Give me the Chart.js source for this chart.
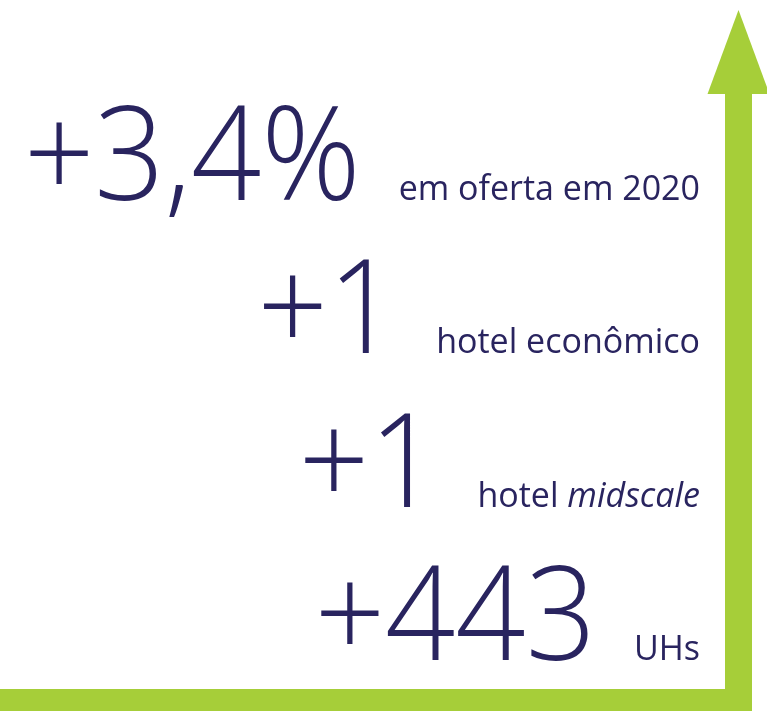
<!DOCTYPE html>
<html>
<head>
<meta charset="utf-8">
<script src="https://cdn.jsdelivr.net/npm/chart.js@4.4.1/dist/chart.umd.min.js"></script>
<style>
  html, body { margin: 0; padding: 0; background: #fff; }
  #wrap { width: 767px; height: 711px; }
</style>
</head>
<body>
<div id="wrap"><canvas id="oferta"></canvas></div>
<script>
// Dados -----------------------------------------------------------------------
var destaques = ['+3,4%', '+1', '+1', '+443'];
var legendas = ['em oferta em 2020', 'hotel econômico', 'hotel _midscale_', 'UHs'];
var linhas = [4, 3, 2, 1];           // linha de cada destaque, de cima para baixo

var azul = '#29245f';
var verde = '#a6ce39';

// Escala vertical em "linhas": 1 linha = 460/3 px
var passo = 460 / 3;
var yMin = 1 - 51 / passo;
var yMax = 4 + 200 / passo;
var xSeta = 738.5;
var yBarra = 1 - 40 / passo;
var yBaseSeta = 4 + 106 / passo;

// Textos (números e legendas) -------------------------------------------------
var textos = {
    id: 'textos',
    afterDatasetsDraw: function (chart) {
        var ctx = chart.ctx, xs = chart.scales.x, ys = chart.scales.y;
        var direita = xs.getPixelForValue(700);
        ctx.save();
        ctx.fillStyle = azul;
        ctx.textBaseline = 'alphabetic';
        linhas.forEach(function (v, i) {
            var y = ys.getPixelForValue(v);
            var partes = legendas[i].split('_');
            var fontes = partes.map(function (p, k) {
                return (k % 2 ? 'italic ' : '') + '400 34px "Open Sans"';
            });
            var total = 0;
            partes.forEach(function (p, k) { ctx.font = fontes[k]; total += ctx.measureText(p).width; });
            var x = direita - total;
            var inicio = x;
            ctx.textAlign = 'left';
            partes.forEach(function (p, k) {
                ctx.font = fontes[k];
                ctx.fillText(p, x, y);
                x += ctx.measureText(p).width;
            });
            // número grande, um pouco estreitado
            ctx.save();
            ctx.translate(inicio - 38, y);
            ctx.scale(0.94, 1);
            ctx.font = '300 131px "Open Sans"';
            ctx.textAlign = 'right';
            ctx.fillText(destaques[i], 0, 0);
            ctx.restore();
        });
        ctx.restore();
    }
};

// Ponta da seta ----------------------------------------------------------------
var pontaSeta = {
    id: 'pontaSeta',
    afterDatasetsDraw: function (chart) {
        var ctx = chart.ctx, xs = chart.scales.x, ys = chart.scales.y;
        var cx = xs.getPixelForValue(xSeta);
        var base = ys.getPixelForValue(yBaseSeta);
        ctx.save();
        ctx.fillStyle = verde;
        ctx.beginPath();
        ctx.moveTo(cx, base - 84);
        ctx.lineTo(cx + 31, base);
        ctx.lineTo(cx - 31, base);
        ctx.closePath();
        ctx.fill();
        ctx.restore();
    }
};

var ctx = document.getElementById('oferta').getContext('2d');
var chart = new Chart(ctx, {
    type: 'line',
    data: {
        datasets: [
            {
                data: [{ x: 0, y: yBarra }, { x: 752, y: yBarra }],
                borderColor: verde,
                borderWidth: 22,
                borderCapStyle: 'butt',
                pointRadius: 0,
                clip: false
            },
            {
                data: [{ x: xSeta, y: yMin }, { x: xSeta, y: yBaseSeta }],
                borderColor: verde,
                borderWidth: 27,
                borderCapStyle: 'butt',
                pointRadius: 0,
                clip: false
            }
        ]
    },
    options: {
        responsive: true,
        maintainAspectRatio: false,
        animation: false,
        events: [],
        layout: { padding: 0 },
        plugins: { legend: { display: false }, tooltip: { enabled: false } },
        scales: {
            x: { type: 'linear', min: 0, max: 767, display: false },
            y: { type: 'linear', min: yMin, max: yMax, display: false }
        }
    },
    plugins: [pontaSeta, textos]
});
</script>
</body>
</html>
